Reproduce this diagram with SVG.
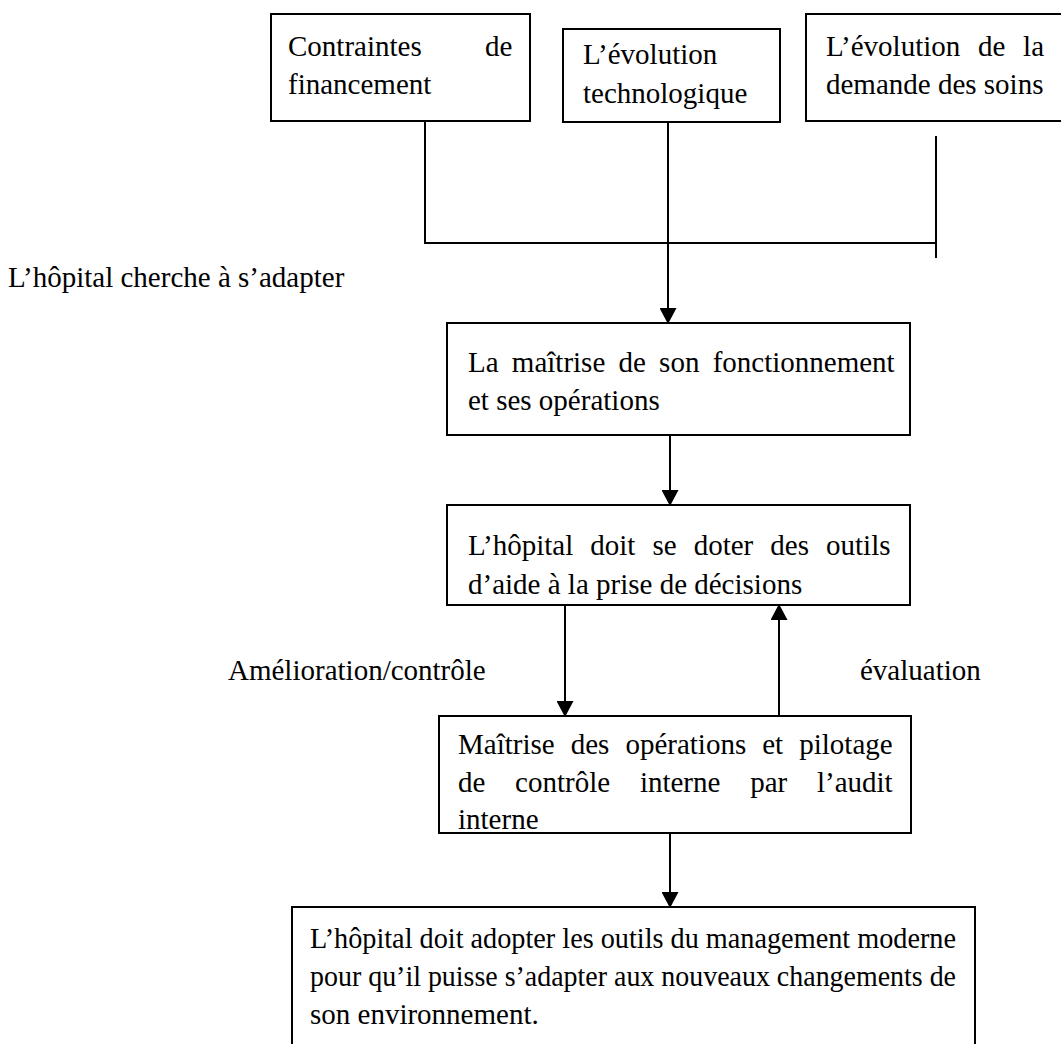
<svg xmlns="http://www.w3.org/2000/svg" width="1061" height="1044" viewBox="0 0 1061 1044">
<style>
.box{fill:#fff;stroke:#000;stroke-width:2}
.t{font-family:"Liberation Serif","Times New Roman",serif;font-size:29px;fill:#000}
.c{fill:none;stroke:#000;stroke-width:2}
</style>
<defs>
<marker id="ah" markerUnits="userSpaceOnUse" markerWidth="16" markerHeight="17" refX="15" refY="8.5" orient="auto">
<path d="M0,0 L16,8.5 L0,17 z" fill="#000"/>
</marker>
</defs>
<rect width="1061" height="1044" fill="#fff"/>
<g id="connectors">
<path class="c" d="M425,121 V243 H936"/>
<path class="c" d="M936,136 V258"/>
<path class="c" d="M668,122 V323" marker-end="url(#ah)"/>
<path class="c" d="M670,435 V505" marker-end="url(#ah)"/>
<path class="c" d="M565,605 V716" marker-end="url(#ah)"/>
<path class="c" d="M779,716 V605" marker-end="url(#ah)"/>
<path class="c" d="M670,833 V907" marker-end="url(#ah)"/>
</g>
<g id="n1">
<rect class="box" x="271" y="14" width="259" height="107"/>
<text class="t" x="288" y="56" word-spacing="56">Contraintes de</text>
<text class="t" x="288" y="94">financement</text>
</g>
<g id="n2">
<rect class="box" x="563" y="29" width="217" height="93"/>
<text class="t" x="583" y="64">L’évolution</text>
<text class="t" x="583" y="103">technologique</text>
</g>
<g id="n3">
<rect class="box" x="806" y="14" width="270" height="107"/>
<text class="t" x="826" y="56" word-spacing="10.5">L’évolution de la</text>
<text class="t" x="826" y="94">demande des soins</text>
</g>
<g id="l1">
<text class="t" x="8" y="287">L’hôpital cherche à s’adapter</text>
</g>
<g id="n4">
<rect class="box" x="447" y="323" width="463" height="112"/>
<text class="t" x="468" y="372" word-spacing="6">La maîtrise de son fonctionnement</text>
<text class="t" x="468" y="410">et ses opérations</text>
</g>
<g id="n5">
<rect class="box" x="447" y="505" width="463" height="100"/>
<text class="t" x="468" y="555" word-spacing="9.8">L’hôpital doit se doter des outils</text>
<text class="t" x="468" y="594">d’aide à la prise de décisions</text>
</g>
<g id="l2">
<text class="t" x="228" y="680">Amélioration/contrôle</text>
</g>
<g id="l3">
<text class="t" x="860" y="680">évaluation</text>
</g>
<g id="n6">
<rect class="box" x="439" y="716" width="472" height="117"/>
<text class="t" x="458" y="754" word-spacing="8.8">Maîtrise des opérations et pilotage</text>
<text class="t" x="458" y="792" word-spacing="22.5">de contrôle interne par l’audit</text>
<text class="t" x="458" y="829">interne</text>
</g>
<g id="n7">
<rect class="box" x="292" y="907" width="683" height="160"/>
<text class="t" x="310" y="948" textLength="646" lengthAdjust="spacingAndGlyphs">L’hôpital doit adopter les outils du management moderne</text>
<text class="t" x="310" y="986" textLength="646" lengthAdjust="spacingAndGlyphs">pour qu’il puisse s’adapter aux nouveaux changements de</text>
<text class="t" x="310" y="1024">son environnement.</text>
</g>
</svg>
